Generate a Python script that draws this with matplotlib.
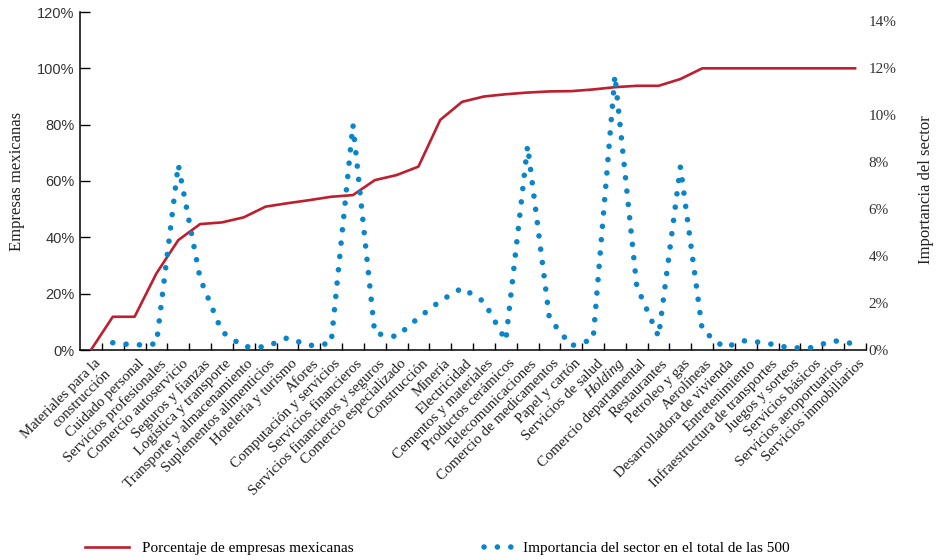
import numpy as np
import matplotlib.pyplot as plt
import matplotlib.transforms as mtransforms
from matplotlib.lines import Line2D

# sectores ordenados (la segunda posicion no tiene etiqueta en el original)
sectores = ["Materiales para la\nconstrucción", "", "Cuidado personal",
            "Servicios profesionales", "Comercio autoservicio", "Seguros y fianzas",
            "Logística y transporte", "Transporte y almacenamiento",
            "Suplementos alimenticios", "Hotelería y turismo", "Afores",
            "Computación y servicios", "Servicios financieros",
            "Servicios financieros y seguros", "Comercio especializado",
            "Construcción", "Minería", "Electricidad", "Cementos y materiales",
            "Productos cerámicos", "Telecomunicaciones", "Comercio de medicamentos",
            "Papel y cartón", "Servicios de salud", "Holding",
            "Comercio departamental", "Restaurantes", "Petroleo y gas", "Aerolíneas",
            "Desarrolladora de vivienda", "Entretenimiento",
            "Infraestructura de transportes", "Juegos y sorteos", "Servicios básicos",
            "Servicios aeroportuarios", "Servicios inmobiliarios"]

# porcentaje de empresas mexicanas (eje izquierdo, %)
empresas_mex = [0, 11.8, 11.8, 27.2, 39.0, 44.7, 45.3, 47.1, 50.9, 52.1, 53.2, 54.4,
                55.0, 60.3, 62.1, 65.1, 81.7, 88.1, 90.0, 90.8, 91.4, 91.8, 91.9,
                92.5, 93.3, 93.8, 93.8, 96.2, 100, 100, 100, 100, 100, 100, 100, 100]

# importancia del sector en el total de las 500 (eje derecho, %)
importancia = [np.nan, 0.31, 0.21, 0.26, 7.9, 3.05, 0.78, 0.14, 0.13, 0.52, 0.19, 0.28,
               9.6, 0.71, 0.57, 1.37, 2.09, 2.64, 2.06, 0.4, 8.7, 1.35, 0.18, 0.45,
               11.7, 2.71, 0.57, 7.8, 0.85, 0.11, 0.41, 0.28, 0.09, 0.1, 0.4, 0.26]

left_ticks = [0, 20, 40, 60, 80, 100, 120]
right_ticks = [0, 2, 4, 6, 8, 10, 12, 14]

rojo = '#be1e2d'
azul = '#0885cb'
serif = 'Liberation Serif'

fig = plt.figure(figsize=(9.39, 5.6), dpi=100)
ax = fig.add_axes([80/939, 1-350/560, (866-80)/939, (350-12)/560])

x = np.arange(len(sectores))
ax.plot(x, empresas_mex, color=rojo, lw=1.9, zorder=3)
ax.set_xlim(-0.5, len(sectores) - 0.5)
ax.set_ylim(0, 120)

ax.spines['top'].set_visible(False)
ax.spines['right'].set_visible(False)
ax.spines['left'].set_linewidth(1.1)
ax.spines['bottom'].set_linewidth(1.1)

ax.set_yticks(left_ticks)
ax.set_yticklabels([f"{v}%" for v in left_ticks], fontfamily='Liberation Sans', fontsize=10.5,
                   color='#333333')
ax.tick_params(axis='y', direction='in', length=7, width=1, pad=4)

ax.set_xticks(x)
ax.set_xticklabels(sectores, rotation=45, ha='right', va='top', rotation_mode='anchor',
                   fontfamily=serif, fontsize=10.7, color='#222222')
ax.set_xticks(np.arange(0.5, len(sectores), 1), minor=True)
ax.tick_params(axis='x', which='major', length=0, pad=5)
ax.tick_params(axis='x', which='minor', direction='in', length=5, width=1)
offset = mtransforms.ScaledTranslation(3/100, 0, fig.dpi_scale_trans)
for lab in ax.get_xticklabels():
    lab.set_transform(lab.get_transform() + offset)
    if lab.get_text() == "Holding":
        lab.set_fontstyle('italic')

ax2 = ax.twinx()
ax2.plot(x, importancia, color=azul, lw=4.0, linestyle=(0, (0.01, 2.4)),
         dash_capstyle='round', clip_on=False)
ax2.set_ylim(0, 14.4)
for s in ax2.spines.values():
    s.set_visible(False)
ax2.set_yticks(right_ticks)
ax2.set_yticklabels([f"{v}%" for v in right_ticks], fontfamily=serif, fontsize=11,
                    color='#333333')
ax2.tick_params(axis='y', length=0, pad=2)

fig.text(17/939, 1-181/560, "Empresas mexicanas", rotation=90, ha='center', va='center',
         fontfamily=serif, fontsize=12, color='#222222')
fig.text(926/939, 1-190/560, "Importancia del sector", rotation=90, ha='center', va='center',
         fontfamily=serif, fontsize=12, color='#222222')

h1 = Line2D([], [], color=rojo, lw=1.9)
h2 = Line2D([], [], color=azul, lw=4.0, linestyle=(0, (0.01, 2.4)), dash_capstyle='round')
fig.legend([h1], ["Porcentaje de empresas mexicanas"], loc='center left',
           bbox_to_anchor=(85/939, 1-548/560), frameon=False, borderpad=0,
           borderaxespad=0, handlelength=2.9, handletextpad=0.85,
           prop={'family': serif, 'size': 11})
fig.legend([h2], ["Importancia del sector en el total de las 500"], loc='center left',
           bbox_to_anchor=(484/939, 1-548/560), frameon=False, borderpad=0,
           borderaxespad=0, handlelength=1.8, handletextpad=0.75,
           prop={'family': serif, 'size': 11})

fig.savefig("out.png", dpi=100)
